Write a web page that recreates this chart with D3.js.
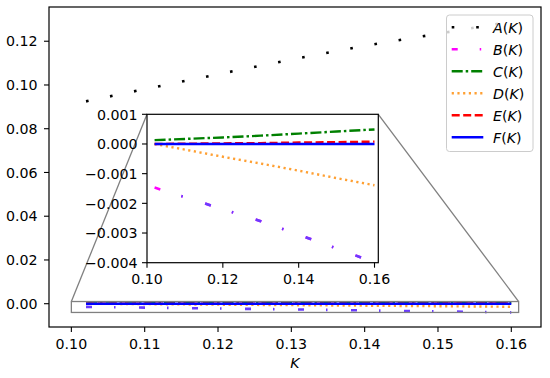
<!DOCTYPE html>
<html><head><meta charset="utf-8">
<script src="https://cdn.jsdelivr.net/npm/d3@7"></script>
<style>
body{margin:0;background:#fff}
text{font-family:"DejaVu Sans",sans-serif;font-size:14.2px;fill:#000}
</style>
</head><body><svg id="c" width="550" height="378"></svg>
<script>
// ---- data ----
const K = [0.102, 0.11, 0.12, 0.13, 0.14, 0.15, 0.16];
const A = [0.0925, 0.0981, 0.1049, 0.1116, 0.1179, 0.1234, 0.1290];
const B = [-0.00147, -0.00179, -0.00220, -0.00260, -0.00306, -0.00352, -0.00399];
const C = [0.00013, 0.00017, 0.00022, 0.00028, 0.00035, 0.00042, 0.00049];
const D = [0.0, -0.00019, -0.00043, -0.00066, -0.00090, -0.00115, -0.00139];
const E = [0.0, 0.00001, 0.00002, 0.00003, 0.00005, 0.00006, 0.00008];
const F = [0, 0, 0, 0, 0, 0, 0];
const seriesNames = ["A", "B", "C", "D", "E", "F"];
const xTicksMain = [0.10, 0.11, 0.12, 0.13, 0.14, 0.15, 0.16];
const yTicksMain = [0.00, 0.02, 0.04, 0.06, 0.08, 0.10, 0.12];
const xTicksInset = [0.10, 0.12, 0.14, 0.16];
const yTicksInset = [-0.004, -0.003, -0.002, -0.001, 0.000, 0.001];
const insetX = [0.10, 0.161];
const insetY = [-0.004, 0.001];
const xLabel = "K";

// ---- styles ----
const styles = {
  A: {color: "#000000", dash: "2.6,21.9", w: 2.6},
  B: {color: "#ff00ff", dash: "6,22,1.5,23.5", w: 2.6, tint: "#6a3cff"},
  C: {color: "#008000", dash: "11,3,2.5,3", w: 2.4},
  D: {color: "#ffa033", dash: "2.2,3.5", w: 2.4},
  E: {color: "#ff0000", dash: "8,3.5", w: 2.4},
  F: {color: "#0000ff", dash: null, w: 2.4}
};
const dataBy = {A, B, C, D, E, F};

const svg = d3.select("#c");
const M = {l: 49, r: 541, t: 7, b: 327};

// matplotlib-like autoscale with 5% margins, including the inset indicator box
const allX = K.concat(insetX);
const allY = A.concat(B, C, D, E, F, insetY);
const xr = d3.extent(allX), yr = d3.extent(allY);
const xm = (xr[1] - xr[0]) * 0.05, ym = (yr[1] - yr[0]) * 0.05;
const x = d3.scaleLinear().domain([xr[0] - xm, xr[1] + xm]).range([M.l, M.r]);
const y = d3.scaleLinear().domain([yr[0] - ym, yr[1] + ym]).range([M.b, M.t]);

svg.append("defs").append("clipPath").attr("id", "mclip")
  .append("rect").attr("x", M.l).attr("y", M.t).attr("width", M.r - M.l).attr("height", M.b - M.t);

const gm = svg.append("g").attr("clip-path", "url(#mclip)");
function drawSeries(g, xs, ys, name, color) {
  const st = styles[name];
  const line = d3.line().x((d, i) => xs(K[i])).y(d => ys(d));
  g.append("path").datum(dataBy[name]).attr("d", line)
    .attr("fill", "none").attr("stroke", color || st.color)
    .attr("stroke-width", st.w).attr("stroke-dasharray", st.dash);
}
seriesNames.forEach(n => drawSeries(gm, x, y, n, n === "B" ? styles.B.tint : null));

// inset placement
const I = {l: 147, r: 378.3, t: 114.3, b: 262.7};
const xi = d3.scaleLinear().domain(insetX).range([I.l, I.r]);
const yi = d3.scaleLinear().domain(insetY).range([I.b, I.t]);

// indicator rect + connectors
const ind = svg.append("g").attr("stroke", "#808080").attr("stroke-width", 1.3).attr("fill", "none");
ind.append("rect").attr("x", x(insetX[0])).attr("y", y(insetY[1]))
  .attr("width", x(insetX[1]) - x(insetX[0])).attr("height", y(insetY[0]) - y(insetY[1]));
ind.append("line").attr("x1", x(insetX[0])).attr("y1", y(insetY[1])).attr("x2", I.l).attr("y2", I.t);
ind.append("line").attr("x1", x(insetX[1])).attr("y1", y(insetY[1])).attr("x2", I.r).attr("y2", I.t);

// main axes spines & ticks
const axM = svg.append("g");
axM.append("rect").attr("x", M.l).attr("y", M.t).attr("width", M.r - M.l).attr("height", M.b - M.t)
  .attr("fill", "none").attr("stroke", "#000").attr("stroke-width", 1.2);
xTicksMain.forEach(t => {
  axM.append("line").attr("x1", x(t)).attr("x2", x(t)).attr("y1", M.b).attr("y2", M.b + 5).attr("stroke", "#000").attr("stroke-width", 1.1);
  axM.append("text").attr("x", x(t)).attr("y", M.b + 21.5).attr("text-anchor", "middle").text(d3.format(".2f")(t));
});
yTicksMain.forEach(t => {
  axM.append("line").attr("x1", M.l - 5).attr("x2", M.l).attr("y1", y(t)).attr("y2", y(t)).attr("stroke", "#000").attr("stroke-width", 1.1);
  axM.append("text").attr("x", M.l - 11.5).attr("y", y(t) + 5.2).attr("text-anchor", "end").text(d3.format(".2f")(t));
});
axM.append("text").attr("x", (M.l + M.r) / 2).attr("y", 368).attr("text-anchor", "middle")
  .attr("font-style", "italic").text(xLabel);

// legend
const L = {x: 446.5, y: 15, w: 86.5, h: 136.5};
const lg = svg.append("g");
lg.append("rect").attr("x", L.x).attr("y", L.y).attr("width", L.w).attr("height", L.h)
  .attr("rx", 3).attr("fill", "#fff").attr("fill-opacity", 0.8).attr("stroke", "#cccccc").attr("stroke-width", 1);
seriesNames.forEach((n, i) => {
  const yy = 27.3 + i * 22;
  const st = styles[n];
  lg.append("line").attr("x1", 451.7).attr("x2", 483.3).attr("y1", yy).attr("y2", yy)
    .attr("stroke", st.color).attr("stroke-width", st.w).attr("stroke-dasharray", st.dash);
  const t = lg.append("text").attr("x", 493).attr("y", yy + 5.2);
  t.append("tspan").attr("font-style", "italic").text(n);
  t.append("tspan").text("(");
  t.append("tspan").attr("font-style", "italic").text(xLabel);
  t.append("tspan").text(")");
});

// inset axes
const gi = svg.append("g");
gi.append("rect").attr("x", I.l).attr("y", I.t).attr("width", I.r - I.l).attr("height", I.b - I.t).attr("fill", "#fff");
svg.select("defs").append("clipPath").attr("id", "iclip")
  .append("rect").attr("x", I.l).attr("y", I.t).attr("width", I.r - I.l).attr("height", I.b - I.t);
svg.select("defs").append("clipPath").attr("id", "itint")
  .append("rect").attr("x", xi(0.106)).attr("y", I.t).attr("width", I.r - xi(0.106)).attr("height", I.b - I.t);
const gil = gi.append("g").attr("clip-path", "url(#iclip)");
seriesNames.forEach(n => {
  drawSeries(gil, xi, yi, n);
  if (n === "B") drawSeries(gil.append("g").attr("clip-path", "url(#itint)"), xi, yi, "B", styles.B.tint);
});
gi.append("rect").attr("x", I.l).attr("y", I.t).attr("width", I.r - I.l).attr("height", I.b - I.t)
  .attr("fill", "none").attr("stroke", "#000").attr("stroke-width", 1.2);
xTicksInset.forEach(t => {
  gi.append("line").attr("x1", xi(t)).attr("x2", xi(t)).attr("y1", I.b).attr("y2", I.b + 5).attr("stroke", "#000").attr("stroke-width", 1.1);
  gi.append("text").attr("x", xi(t)).attr("y", I.b + 21.5).attr("text-anchor", "middle").text(d3.format(".2f")(t));
});
yTicksInset.forEach(t => {
  gi.append("line").attr("x1", I.l - 5).attr("x2", I.l).attr("y1", yi(t)).attr("y2", yi(t)).attr("stroke", "#000").attr("stroke-width", 1.1);
  gi.append("text").attr("x", I.l - 9.5).attr("y", yi(t) + 5.2).attr("text-anchor", "end").text(d3.format(".3f")(t));
});
</script>
</body></html>
